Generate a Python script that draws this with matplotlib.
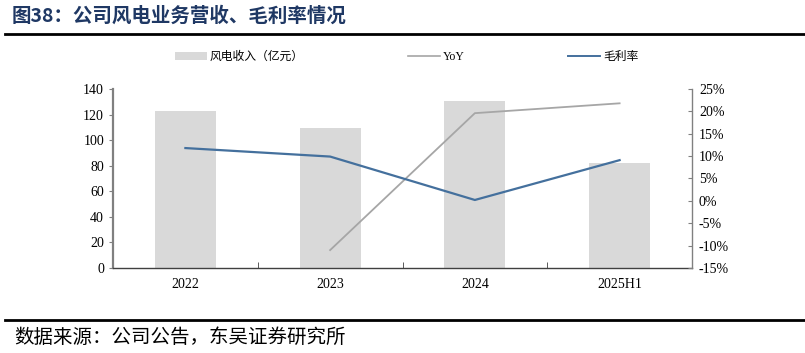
import numpy as np
import matplotlib.pyplot as plt
from matplotlib.lines import Line2D
from matplotlib.patches import Patch

plt.rcParams['font.family'] = ['Liberation Serif', 'Noto Sans CJK SC', 'DejaVu Sans']

years = ["2022", "2023", "2024", "2025H1"]
revenue = [122.8, 109.5, 130.6, 82.0]          # 风电收入（亿元）
yoy = [np.nan, -11.0, 19.6, 21.8]               # YoY, %
margin = [11.8, 9.9, 0.2, 9.1]                  # 毛利率, %

fig = plt.figure(figsize=(8.05, 3.53), dpi=100)
ax = fig.add_axes([0.1404, 0.2408, 0.7192, 0.5071])
ax2 = ax.twinx()

x = np.arange(len(years))
ax.bar(x, revenue, width=0.42, color="#D9D9D9", zorder=1)
ax2.plot(x, yoy, color="#A6A6A6", lw=1.3)
ax2.plot(x, margin, color="#44709D", lw=1.6)

ax.set_xlim(-0.5, len(years) - 0.5)
ax.set_ylim(0, 140)
ax.set_yticks(range(0, 141, 20))
ax2.set_ylim(-15, 25)
ax2.set_yticks(range(-15, 26, 5))
ax2.set_yticklabels([f"{v}%" for v in range(-15, 26, 5)])

ax.set_xticks(x)
ax.set_xticklabels(years)
ax.set_xticks(x[:-1] + 0.5, minor=True)
ax.tick_params(axis="x", which="major", length=0, pad=7, labelsize=10)
ax.tick_params(axis="x", which="minor", direction="in", length=4, color="#404040")
ax.tick_params(axis="y", direction="out", length=3, labelsize=10, color="#808080")
ax2.tick_params(axis="y", direction="in", length=3, labelsize=10, color="#808080", pad=5)

for s in ["top", "right"]:
    ax.spines[s].set_visible(False)
ax.spines["left"].set_color("#808080")
ax.spines["left"].set_linewidth(1.6)
ax.spines["bottom"].set_color("#404040")
ax.spines["bottom"].set_linewidth(1.0)
ax2.spines["top"].set_visible(False)
ax2.spines["left"].set_visible(False)
ax2.spines["bottom"].set_visible(False)
ax2.spines["right"].set_color("#808080")
ax2.spines["right"].set_linewidth(1.0)

handles = [
    Patch(facecolor="#D9D9D9", edgecolor="none", label="风电收入（亿元）"),
    Line2D([], [], color="#A6A6A6", lw=1.2, label="YoY"),
    Line2D([], [], color="#44709D", lw=1.4, label="毛利率"),
]
fig.legend(handles=handles, loc="center left", bbox_to_anchor=(0.2174, 0.838), ncol=3,
           frameon=False, fontsize=8.5, columnspacing=8.8, handlelength=2.7,
           handletextpad=0.25, borderpad=0, borderaxespad=0)

fig.text(0.015, 0.955, "图38：公司风电业务营收、毛利率情况", fontsize=14, fontweight="bold",
         color="#1F3864", va="center", family=["Noto Sans CJK SC"])
fig.add_artist(Line2D([0.006, 1.0], [0.905, 0.905], color="black", lw=2.0))
fig.add_artist(Line2D([0.006, 1.0], [0.093, 0.093], color="black", lw=2.0))
fig.text(0.018, 0.045, "数据来源：公司公告，东吴证券研究所", fontsize=14, va="center",
         family=["Noto Sans CJK SC"])

fig.savefig("out.png", dpi=100)
